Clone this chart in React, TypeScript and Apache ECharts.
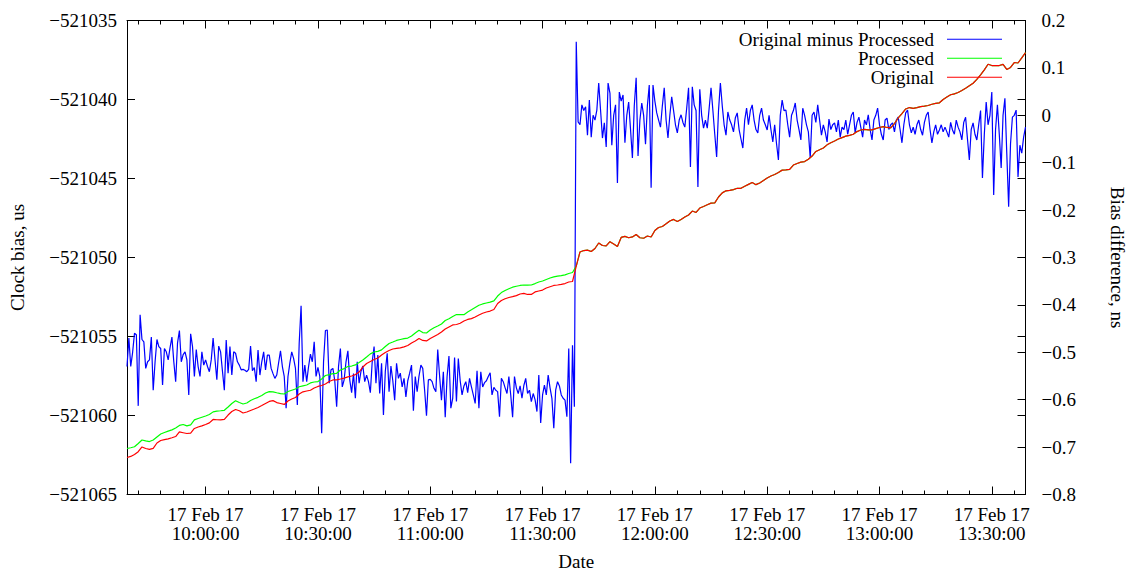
import React, { useEffect, useRef } from "react";
import * as echarts from "echarts";

// ---- time grid (UTC) ----
const startTime = Date.UTC(2017, 1, 17, 9, 39, 0);
const endTime = Date.UTC(2017, 1, 17, 13, 39, 0);
const biasStepMs = 60000; // clock bias: one sample per minute
const diffStepMs = 30000; // difference: one sample per 30 s
const monthNames = ["Jan", "Feb", "Mar", "Apr", "May", "Jun", "Jul", "Aug", "Sep", "Oct", "Nov", "Dec"];

// ---- x tick labels (major every 30 min, minor every 6 min) ----
const majorTickLabels = ["10:00:00", "10:30:00", "11:00:00", "11:30:00", "12:00:00", "12:30:00", "13:00:00", "13:30:00"];
const minorTickMinutes = 6;

// ---- clock bias, us ----
const originalBeforeJump = [
  -521062.66, -521062.59, -521062.47, -521062.29, -521061.99, -521062.09, -521062.14, -521062.08, -521061.74, -521061.58,
  -521061.53, -521061.48, -521061.41, -521061.33, -521061.04, -521061.09, -521061.14, -521061.11, -521060.82, -521060.73,
  -521060.66, -521060.57, -521060.47, -521060.25, -521060.27, -521060.28, -521060.24, -521059.97, -521059.75, -521059.62,
  -521059.70, -521059.84, -521059.78, -521059.68, -521059.59, -521059.49, -521059.37, -521059.24, -521059.11, -521059.06,
  -521059.18, -521059.24, -521059.30, -521059.08, -521058.96, -521058.86, -521058.64, -521058.50, -521058.45, -521058.40,
  -521058.26, -521058.16, -521058.10, -521058.01, -521057.85, -521057.75, -521057.74, -521057.69, -521057.63, -521057.56,
  -521057.50, -521057.41, -521057.25, -521056.93, -521056.71, -521056.58, -521056.46, -521056.36, -521056.17, -521056.01,
  -521055.89, -521055.79, -521055.75, -521055.72, -521055.66, -521055.57, -521055.41, -521055.28, -521055.13, -521055.25,
  -521055.28, -521055.13, -521055.00, -521054.87, -521054.72, -521054.53, -521054.40, -521054.27, -521054.24, -521054.16,
  -521054.02, -521053.92, -521053.87, -521053.77, -521053.64, -521053.53, -521053.45, -521053.39, -521053.29, -521052.91,
  -521052.72, -521052.61, -521052.53, -521052.48, -521052.41, -521052.31, -521052.27, -521052.34, -521052.34, -521052.18,
  -521052.12, -521052.06, -521051.93, -521051.85, -521051.77, -521051.74, -521051.70, -521051.65, -521051.55, -521051.52,
];

const processedBeforeJump = [
  -521062.09, -521062.04, -521061.98, -521061.77, -521061.55, -521061.61, -521061.65, -521061.55, -521061.36, -521061.17,
  -521061.08, -521060.99, -521060.91, -521060.79, -521060.63, -521060.57, -521060.66, -521060.59, -521060.28, -521060.19,
  -521060.11, -521060.03, -521059.94, -521059.77, -521059.72, -521059.70, -521059.67, -521059.46, -521059.24, -521059.07,
  -521059.18, -521059.27, -521059.21, -521059.05, -521058.94, -521058.85, -521058.73, -521058.58, -521058.49, -521058.50,
  -521058.56, -521058.61, -521058.64, -521058.48, -521058.40, -521058.32, -521058.18, -521058.12, -521058.07, -521057.94,
  -521057.88, -521057.85, -521057.69, -521057.47, -521057.41, -521057.35, -521057.33, -521057.12, -521057.03, -521056.90,
  -521056.87, -521056.80, -521056.65, -521056.49, -521056.30, -521056.10, -521055.98, -521055.94, -521055.85, -521055.63,
  -521055.44, -521055.35, -521055.25, -521055.19, -521055.14, -521055.10, -521054.97, -521054.78, -521054.61, -521054.75,
  -521054.78, -521054.59, -521054.45, -521054.34, -521054.21, -521053.99, -521053.88, -521053.73, -521053.61, -521053.61,
  -521053.62, -521053.45, -521053.31, -521053.16, -521053.02, -521052.94, -521052.88, -521052.82, -521052.75, -521052.44,
  -521052.22, -521052.09, -521051.98, -521051.88, -521051.82, -521051.77, -521051.74, -521051.75, -521051.74, -521051.65,
  -521051.55, -521051.49, -521051.39, -521051.30, -521051.23, -521051.18, -521051.15, -521051.10, -521051.01, -521050.95,
];

// after the jump Original and Processed coincide
const biasAfterJump = [
  -521050.54, -521049.65, -521049.56, -521049.53, -521049.62, -521049.43, -521049.08, -521049.24, -521049.27, -521049.00,
  -521049.15, -521049.30, -521048.73, -521048.66, -521048.75, -521048.70, -521048.54, -521048.75, -521048.78, -521048.64,
  -521048.70, -521048.29, -521048.10, -521048.04, -521047.87, -521047.69, -521047.59, -521047.72, -521047.59, -521047.44,
  -521047.31, -521047.06, -521047.15, -521046.87, -521046.77, -521046.66, -521046.56, -521046.54, -521046.17, -521045.91,
  -521045.78, -521045.75, -521045.70, -521045.62, -521045.62, -521045.49, -521045.37, -521045.25, -521045.39, -521045.28,
  -521045.13, -521044.97, -521044.84, -521044.75, -521044.62, -521044.47, -521044.45, -521044.42, -521044.15, -521044.05,
  -521043.96, -521043.93, -521043.78, -521043.58, -521043.29, -521043.18, -521043.07, -521042.87, -521042.74, -521042.63,
  -521042.50, -521042.41, -521042.32, -521042.27, -521042.20, -521042.03, -521041.93, -521041.89, -521041.92, -521041.92,
  -521041.84, -521041.77, -521041.72, -521041.77, -521041.80, -521041.52, -521041.17, -521040.89, -521040.60, -521040.51,
  -521040.56, -521040.51, -521040.45, -521040.42, -521040.38, -521040.30, -521040.25, -521040.21, -521040.00, -521039.84,
  -521039.70, -521039.64, -521039.56, -521039.43, -521039.29, -521039.13, -521038.97, -521038.73, -521038.44, -521038.13,
  -521037.77, -521037.85, -521037.85, -521037.85, -521037.78, -521038.10, -521037.97, -521037.66, -521037.69, -521037.37,
  -521037.03,
];

// ---- Original minus Processed, ns ----
const differenceNs = [
  -0.530, -0.470, -0.530, -0.500, -0.460, -0.463, -0.613, -0.421, -0.473, -0.478, -0.534, -0.520, -0.516, -0.468, -0.580, -0.520, -0.473, -0.488, -0.492, -0.569,
  -0.492, -0.499, -0.516, -0.490, -0.468, -0.520, -0.562, -0.480, -0.454, -0.520, -0.505, -0.499, -0.516, -0.590, -0.461, -0.488, -0.551, -0.494, -0.530, -0.551,
  -0.499, -0.527, -0.516, -0.530, -0.541, -0.516, -0.470, -0.515, -0.558, -0.487, -0.499, -0.540, -0.580, -0.474, -0.544, -0.488, -0.548, -0.499, -0.502, -0.520,
  -0.527, -0.537, -0.536, -0.538, -0.541, -0.536, -0.487, -0.539, -0.532, -0.562, -0.495, -0.548, -0.520, -0.499, -0.537, -0.506, -0.506, -0.534, -0.545, -0.555,
  -0.548, -0.522, -0.497, -0.530, -0.551, -0.618, -0.551, -0.523, -0.499, -0.513, -0.534, -0.611, -0.480, -0.402, -0.562, -0.527, -0.562, -0.530, -0.504, -0.520,
  -0.478, -0.551, -0.532, -0.551, -0.671, -0.520, -0.454, -0.453, -0.565, -0.537, -0.534, -0.560, -0.615, -0.530, -0.492, -0.573, -0.558, -0.520, -0.497, -0.558,
  -0.585, -0.545, -0.597, -0.520, -0.565, -0.540, -0.529, -0.562, -0.548, -0.562, -0.585, -0.520, -0.488, -0.565, -0.506, -0.587, -0.523, -0.632, -0.540, -0.502,
  -0.583, -0.529, -0.560, -0.601, -0.523, -0.555, -0.544, -0.573, -0.555, -0.594, -0.560, -0.544, -0.527, -0.623, -0.551, -0.583, -0.550, -0.527, -0.534, -0.580,
  -0.634, -0.558, -0.557, -0.562, -0.576, -0.583, -0.494, -0.550, -0.601, -0.541, -0.637, -0.551, -0.508, -0.618, -0.597, -0.511, -0.604, -0.513, -0.560, -0.590,
  -0.571, -0.562, -0.585, -0.555, -0.573, -0.590, -0.608, -0.539, -0.618, -0.541, -0.573, -0.564, -0.560, -0.551, -0.543, -0.590, -0.574, -0.580, -0.583, -0.636,
  -0.555, -0.562, -0.575, -0.587, -0.551, -0.590, -0.637, -0.551, -0.575, -0.587, -0.571, -0.597, -0.570, -0.555, -0.587, -0.580, -0.604, -0.587, -0.600, -0.625,
  -0.548, -0.649, -0.590, -0.569, -0.590, -0.548, -0.575, -0.597, -0.660, -0.580, -0.562, -0.571, -0.590, -0.597, -0.601, -0.636, -0.492, -0.734, -0.485, -0.615,
  0.155, -0.014, -0.020, 0.022, 0.010, 0.018, -0.042, 0.032, -0.046, 0.000, -0.010, 0.011, 0.068, 0.010, -0.048, -0.016, -0.067, 0.068, 0.047, -0.063,
  0.000, 0.022, -0.143, 0.049, 0.030, 0.043, -0.058, 0.000, 0.028, -0.030, -0.090, 0.020, 0.079, -0.086, -0.010, 0.026, 0.000, -0.061, 0.020, 0.064,
  -0.153, 0.064, 0.030, 0.005, -0.010, -0.025, 0.020, 0.058, -0.010, -0.048, 0.000, 0.039, 0.010, -0.020, -0.037, -0.010, 0.001, -0.015, -0.025, 0.015,
  0.058, -0.109, 0.060, 0.022, 0.010, -0.151, 0.055, 0.000, -0.027, -0.010, -0.027, 0.015, 0.058, 0.010, -0.040, -0.088, 0.010, 0.068, 0.020, -0.020,
  -0.042, 0.007, -0.010, -0.020, -0.035, -0.005, 0.005, -0.030, -0.050, -0.069, -0.010, 0.015, -0.020, 0.010, 0.022, -0.010, -0.030, -0.037, 0.000, 0.015,
  -0.010, -0.020, -0.031, 0.000, -0.030, -0.056, -0.020, -0.060, -0.094, 0.000, 0.032, 0.010, 0.011, -0.020, -0.046, 0.000, 0.010, 0.026, -0.010, -0.030,
  -0.052, 0.015, 0.000, -0.020, -0.035, -0.090, 0.000, 0.007, -0.015, 0.022, -0.010, -0.042, -0.020, -0.035, -0.056, -0.008, -0.030, -0.020, -0.016, -0.035,
  -0.010, -0.046, -0.025, -0.030, -0.010, -0.040, -0.020, 0.000, 0.007, -0.037, -0.015, -0.004, -0.025, -0.046, -0.010, -0.020, 0.001, -0.030, -0.052, -0.010,
  0.000, 0.015, -0.020, -0.040, -0.052, -0.010, -0.006, -0.030, -0.020, -0.016, -0.035, -0.010, -0.004, -0.030, -0.058, -0.020, 0.005, 0.011, -0.020, -0.037,
  -0.025, -0.040, -0.020, -0.010, -0.030, -0.042, -0.015, 0.000, 0.007, -0.030, -0.058, -0.035, -0.020, -0.040, -0.031, -0.020, -0.035, -0.025, -0.035, -0.046,
  -0.015, -0.031, -0.040, -0.010, -0.025, -0.035, -0.052, -0.015, -0.004, -0.050, -0.094, -0.030, -0.016, -0.040, -0.052, -0.020, 0.010, -0.132, -0.040, 0.028,
  -0.020, 0.000, 0.049, -0.168, -0.030, 0.022, -0.040, -0.111, 0.000, 0.036, -0.080, -0.193, -0.060, -0.004, 0.000, 0.011, -0.130, -0.063, -0.080, -0.046,
  -0.025,
];

const seriesNames = ["Original minus Processed", "Processed", "Original"];
const seriesColors = ["#0000ff", "#00ff00", "#ff0000"];

const FONT = "'Liberation Serif', 'Times New Roman', serif";
const FS = 19;

const minus = (s: string) => s.replace("-", "\u2212");
const pad2 = (n: number) => (n < 10 ? "0" : "") + n;

function dateLabel(v: number) {
  const d = new Date(v);
  const top = `${d.getUTCDate()} ${monthNames[d.getUTCMonth()]} ${pad2(d.getUTCFullYear() % 100)}`;
  const bot = `${pad2(d.getUTCHours())}:${pad2(d.getUTCMinutes())}:${pad2(d.getUTCSeconds())}`;
  return `${top}\n${bot}`;
}

function clockToTime(s: string) {
  const [h, m, sec] = s.split(":").map(Number);
  return Date.UTC(2017, 1, 17, h, m, sec);
}

export default function App() {
  const ref = useRef<HTMLDivElement>(null);

  useEffect(() => {
    document.documentElement.style.overflow = "hidden";
    document.body.style.margin = "0";
    document.body.style.overflow = "hidden";
    if (!ref.current) return;
    const chart = echarts.init(ref.current, undefined, { renderer: "svg" });

    const toPairs = (arr: number[], step: number) => arr.map((v, i) => [startTime + i * step, v]);
    const originalData = toPairs([...originalBeforeJump, ...biasAfterJump], biasStepMs);
    const processedData = toPairs([...processedBeforeJump, ...biasAfterJump], biasStepMs);
    const diffData = toPairs(differenceNs, diffStepMs);

    const majorTicks = majorTickLabels.map(clockToTime);
    const minorTicks: number[] = [];
    const firstMinor = Math.ceil(startTime / (minorTickMinutes * 60000)) * minorTickMinutes * 60000;
    for (let t = firstMinor; t <= endTime; t += minorTickMinutes * 60000) minorTicks.push(t);

    const tickStyle = { color: "#000", width: 1 };
    const textBase = { fontFamily: FONT, fontSize: FS, color: "#000" };

    const xBase = {
      type: "value",
      min: startTime,
      max: endTime,
      splitLine: { show: false },
      axisLabel: { show: false },
    };
    const xMajor = (position: string, extra: any = {}) => ({
      ...xBase,
      position,
      axisLine: { show: true, onZero: false, lineStyle: tickStyle },
      axisTick: { show: true, inside: true, length: 8, lineStyle: tickStyle, customValues: majorTicks },
      ...extra,
    });
    const xMinor = (position: string) => ({
      ...xBase,
      position,
      axisLine: { show: false, onZero: false },
      axisTick: { show: true, inside: true, length: 4, lineStyle: tickStyle, customValues: minorTicks },
    });

    const legendFor = (i: number, top: number) => ({
      data: [seriesNames[i]],
      right: 129,
      top,
      orient: "vertical",
      align: "right",
      padding: 0,
      icon: "rect",
      itemWidth: 55,
      itemHeight: 1,
      selectedMode: false,
      textStyle: { ...textBase, lineHeight: 19, padding: [0, 8, 0, 0] },
    });

    chart.setOption({
      animation: false,
      backgroundColor: "#fff",
      grid: {
        left: 127,
        right: 105.5,
        top: 20.5,
        bottom: 76.5,
        containLabel: false,
        outerBoundsMode: "none",
      },
      legend: [legendFor(0, 29.8), legendFor(1, 48.8), legendFor(2, 67.8)],
      xAxis: [
        xMajor("bottom", {
          name: "Date",
          nameLocation: "middle",
          nameGap: 57,
          nameTextStyle: textBase,
          axisLabel: {
            ...textBase,
            show: true,
            lineHeight: 19.5,
            margin: 10,
            customValues: majorTicks,
            formatter: (v: number) => dateLabel(v),
          },
        }),
        xMinor("bottom"),
        xMajor("top"),
        xMinor("top"),
      ],
      yAxis: [
        {
          type: "value",
          position: "left",
          min: -521065,
          max: -521035,
          interval: 5,
          name: "Clock bias, us",
          nameLocation: "middle",
          nameGap: 100,
          nameTextStyle: textBase,
          splitLine: { show: false },
          axisLine: { show: true, onZero: false, lineStyle: tickStyle },
          axisTick: { show: true, inside: true, length: 8, lineStyle: tickStyle },
          axisLabel: { ...textBase, margin: 10, formatter: (v: number) => minus(String(Math.round(v))) },
        },
        {
          type: "value",
          position: "right",
          min: -0.8,
          max: 0.2,
          interval: 0.1,
          name: "Bias difference, ns",
          nameLocation: "middle",
          nameRotate: -90,
          nameGap: 82,
          nameTextStyle: textBase,
          splitLine: { show: false },
          axisLine: { show: true, onZero: false, lineStyle: tickStyle },
          axisTick: { show: true, inside: true, length: 8, lineStyle: tickStyle },
          axisLabel: {
            ...textBase,
            margin: 16,
            formatter: (v: number) => {
              const r = Math.round(v * 10) / 10;
              return minus(r === 0 ? "0" : String(r));
            },
          },
        },
        {
          type: "value",
          position: "right",
          min: -521065,
          max: -521035,
          interval: 5,
          splitLine: { show: false },
          axisLine: { show: false },
          axisTick: { show: true, inside: true, length: 8, lineStyle: tickStyle },
          axisLabel: { show: false },
        },
      ],
      series: [
        {
          name: seriesNames[0],
          type: "line",
          xAxisIndex: 0,
          yAxisIndex: 1,
          data: diffData,
          symbol: "none",
          showSymbol: false,
          color: seriesColors[0],
          lineStyle: { color: seriesColors[0], width: 1.2 },
          z: 2,
        },
        {
          name: seriesNames[1],
          type: "line",
          xAxisIndex: 0,
          yAxisIndex: 0,
          data: processedData,
          symbol: "none",
          showSymbol: false,
          color: seriesColors[1],
          lineStyle: { color: seriesColors[1], width: 1.2 },
          z: 3,
        },
        {
          name: seriesNames[2],
          type: "line",
          xAxisIndex: 0,
          yAxisIndex: 0,
          data: originalData,
          symbol: "none",
          showSymbol: false,
          color: seriesColors[2],
          lineStyle: { color: seriesColors[2], width: 1.2 },
          z: 4,
        },
      ],
    });

    return () => chart.dispose();
  }, []);

  return (
    <div
      ref={ref}
      style={{ position: "fixed", left: 0, top: 0, width: 1131, height: 571, overflow: "hidden" }}
    />
  );
}
